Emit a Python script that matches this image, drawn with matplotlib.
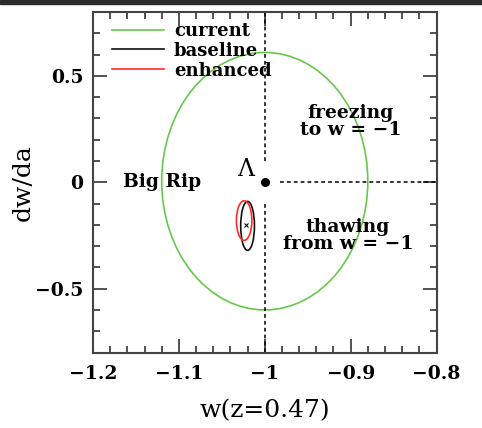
import matplotlib
matplotlib.use('Agg')
import matplotlib.pyplot as plt
from matplotlib.patches import Ellipse, Rectangle

# contours: (label, colour, centre w, centre dw/da, half width, half height)
names = ['current', 'baseline', 'enhanced']
colors = ['#66c84a', '#111111', '#ff2a2a']
cx = [-1.0, -1.0200, -1.0240]
cy = [0.005, -0.205, -0.180]
half_w = [0.120, 0.0080, 0.0090]
half_h = [0.605, 0.115, 0.093]

lcdm = (-1.0, 0.0)
fid = (-1.022, -0.20)

xlim = (-1.2, -0.8)
ylim = (-0.8, 0.8)
xticks = [-1.2, -1.1, -1.0, -0.9, -0.8]
xticklabels = ['\u22121.2', '\u22121.1', '\u22121', '\u22120.9', '\u22120.8']
yticks = [-0.5, 0.0, 0.5]
yticklabels = ['\u22120.5', '0', '0.5']

tick_font = {'family': 'DejaVu Serif', 'weight': 'bold', 'size': 13.5}
text_font = {'family': 'DejaVu Serif', 'weight': 'bold', 'size': 13.5}
label_font = {'family': 'DejaVu Serif', 'size': 18}

fig = plt.figure(figsize=(4.82, 4.28), dpi=100)
fig.patches.append(Rectangle((0, 1 - 4 / 428), 1, 4 / 428, transform=fig.transFigure,
                             color='#2b2b2b', zorder=0))
ax = fig.add_axes([93 / 482, 1 - 352.5 / 428, 343.5 / 482, 340.5 / 428])

for name, c, x0, y0, a, b in zip(names, colors, cx, cy, half_w, half_h):
    ax.add_patch(Ellipse((x0, y0), 2 * a, 2 * b, fill=False, edgecolor=c, lw=1.2))
    ax.plot([], [], color=c, lw=1.2, label=name)

# dotted guide lines through Lambda
ax.plot([-1, -1], [0.1, 0.8], color='k', lw=1.1, dashes=(2.5, 2))
ax.plot([-1, -1], [-0.1, -0.8], color='k', lw=1.1, dashes=(2.5, 2))
ax.plot([-0.982, -0.8], [0, 0], color='k', lw=1.1, dashes=(2.5, 2))

ax.plot(*lcdm, 'o', color='k', ms=5.5)
ax.plot(*fid, 'x', color='k', ms=3, mew=0.8)

ax.text(-1.022, 0.06, '\u039b', ha='center', va='center',
        fontdict={'family': 'DejaVu Serif', 'size': 17})
ax.text(-1.12, 0.0, 'Big Rip', ha='center', va='center', fontdict=text_font)
ax.text(-0.90, 0.285, 'freezing\nto w = \u22121', ha='center', va='center',
        linespacing=0.95, fontdict=text_font)
ax.text(-0.903, -0.25, 'thawing\nfrom w = \u22121', ha='center', va='center',
        linespacing=0.95, fontdict=text_font)

ax.set_xlim(*xlim)
ax.set_ylim(*ylim)
ax.set_xticks(xticks)
ax.set_xticklabels(xticklabels, fontdict=tick_font)
ax.set_yticks(yticks)
ax.set_yticklabels(yticklabels, fontdict=tick_font)
ax.xaxis.set_minor_locator(matplotlib.ticker.MultipleLocator(0.02))
ax.yaxis.set_minor_locator(matplotlib.ticker.MultipleLocator(0.1))
ax.tick_params(which='both', direction='in', top=True, right=True, color='#444444')
ax.tick_params(which='major', length=10, width=1.3)
ax.tick_params(axis='x', which='major', pad=9)
ax.tick_params(axis='y', which='major', pad=7)
ax.tick_params(which='minor', length=5, width=1.3)
for s in ax.spines.values():
    s.set_linewidth(1.5)
    s.set_color('#444444')

ax.set_xlabel('w(z=0.47)', fontdict=label_font, labelpad=12)
ax.set_ylabel('dw/da', fontdict=label_font, labelpad=0)

leg = ax.legend(loc='upper left', bbox_to_anchor=(0.025, 1.0), frameon=False,
                handlelength=2.9, handletextpad=0.55,
                labelspacing=0.1, borderpad=0.15, borderaxespad=0.4,
                prop={'family': 'DejaVu Serif', 'weight': 'bold', 'size': 13})

fig.savefig('out.png', dpi=100)
